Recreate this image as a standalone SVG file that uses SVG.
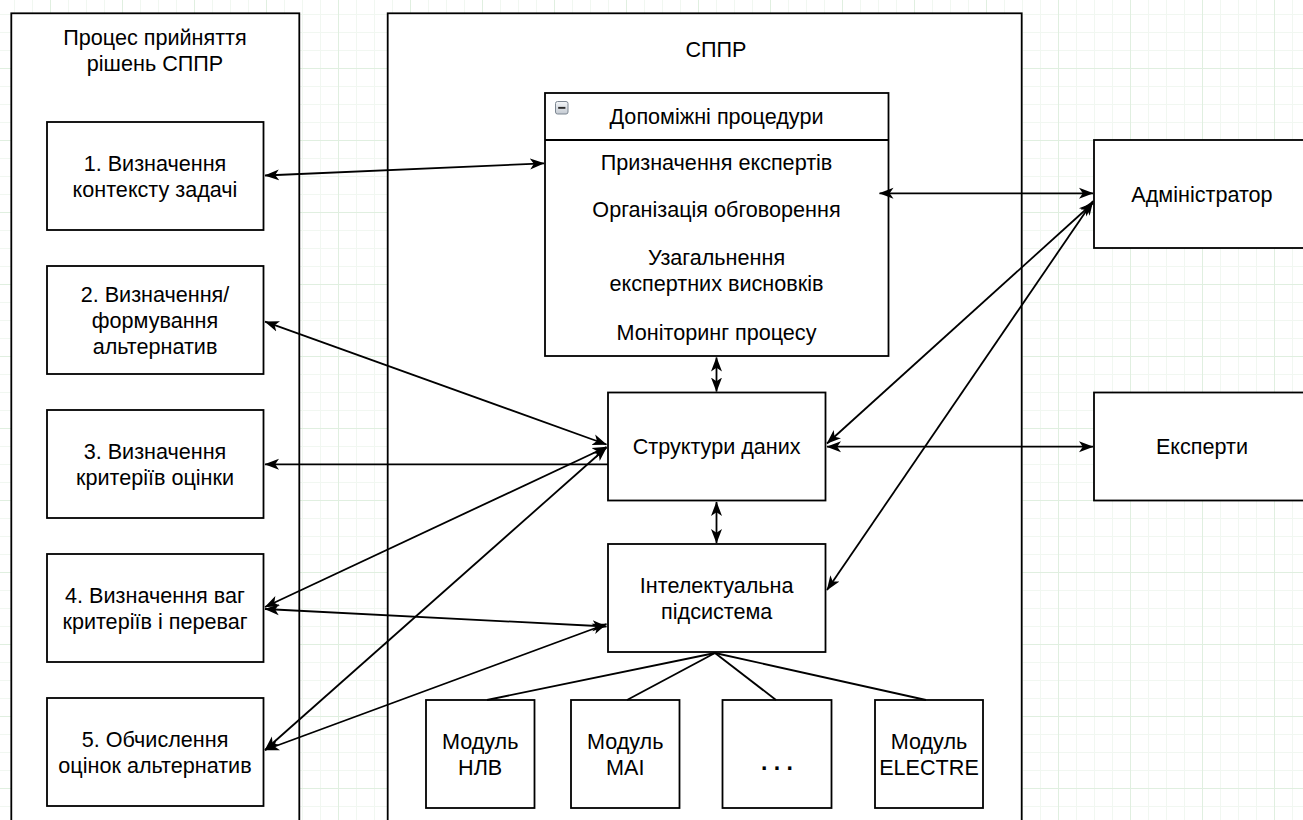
<svg xmlns="http://www.w3.org/2000/svg" width="1303" height="820" viewBox="0 0 1303 820">
<defs>
<pattern id="grid" patternUnits="userSpaceOnUse" x="50" y="68" width="72" height="72">
<rect x="18" y="0" width="1" height="72" fill="#f1f7f1"/>
<rect x="36" y="0" width="1" height="72" fill="#f1f7f1"/>
<rect x="54" y="0" width="1" height="72" fill="#f1f7f1"/>
<rect x="0" y="18" width="72" height="1" fill="#f1f7f1"/>
<rect x="0" y="36" width="72" height="1" fill="#f1f7f1"/>
<rect x="0" y="54" width="72" height="1" fill="#f1f7f1"/>
<rect x="0" y="0" width="1" height="72" fill="#e0efe0"/>
<rect x="0" y="0" width="72" height="1" fill="#e0efe0"/>
</pattern>
<marker id="arr" markerUnits="userSpaceOnUse" markerWidth="15" markerHeight="13" viewBox="0 0 15 13" refX="14" refY="6.5" orient="auto-start-reverse">
<path d="M0,1 L14.5,6.5 L0,12 L3.8,6.5 Z" fill="#000"/>
</marker>
<linearGradient id="ig" x1="0" y1="0" x2="0" y2="1">
<stop offset="0" stop-color="#f4f6f8"/>
<stop offset="1" stop-color="#c4cad2"/>
</linearGradient>
</defs>
<style>
.box{fill:#fff;stroke:#000;stroke-width:1.8}
.t{font-family:"Liberation Sans",Arial,Helvetica,sans-serif;font-size:21.6px;fill:#000;text-anchor:middle}
.c{fill:none;stroke:#000;stroke-width:1.8}
.a{marker-end:url(#arr)}
.aa{marker-start:url(#arr);marker-end:url(#arr)}
</style>
<rect x="0" y="0" width="1303" height="820" fill="#fff"/>
<rect x="0" y="0" width="1303" height="820" fill="url(#grid)"/>

<g id="process-container">
<rect class="box" x="11.3" y="13.3" width="288" height="830"/>
<text class="t" x="155" y="45">Процес прийняття</text>
<text class="t" x="155" y="71">рішень СППР</text>
</g>

<g id="sppr-container">
<rect class="box" x="387.7" y="13.3" width="634" height="830"/>
<text class="t" x="716" y="57">СППР</text>
</g>

<g id="step1">
<rect class="box" x="47" y="122" width="216.5" height="108"/>
<text class="t" x="155" y="170.7">1. Визначення</text>
<text class="t" x="155" y="196.7">контексту задачі</text>
</g>
<g id="step2">
<rect class="box" x="47" y="266" width="216.5" height="108"/>
<text class="t" x="155" y="301.6">2. Визначення/</text>
<text class="t" x="155" y="327.6">формування</text>
<text class="t" x="155" y="353.6">альтернатив</text>
</g>
<g id="step3">
<rect class="box" x="47" y="410" width="216.5" height="108"/>
<text class="t" x="155" y="458.7">3. Визначення</text>
<text class="t" x="155" y="484.7">критеріїв оцінки</text>
</g>
<g id="step4">
<rect class="box" x="47" y="554" width="216.5" height="108"/>
<text class="t" x="155" y="602.7">4. Визначення ваг</text>
<text class="t" x="155" y="628.7">критеріїв і переваг</text>
</g>
<g id="step5">
<rect class="box" x="47" y="698" width="216.5" height="108"/>
<text class="t" x="155" y="746.7">5. Обчислення</text>
<text class="t" x="155" y="772.7">оцінок альтернатив</text>
</g>

<g id="aux-procedures">
<rect class="box" x="545" y="93" width="343.5" height="263"/>
<line class="c" x1="545" y1="140" x2="888.5" y2="140"/>
<rect x="555.5" y="101.5" width="12.5" height="12.5" rx="2" fill="url(#ig)" stroke="#7d8792" stroke-width="1"/>
<rect x="558.2" y="106.9" width="7.2" height="1.9" fill="#2a2a2a"/>
<text class="t" x="716.5" y="124.3">Допоміжні процедури</text>
<text class="t" x="716.5" y="170">Призначення експертів</text>
<text class="t" x="716.5" y="217">Організація обговорення</text>
<text class="t" x="716.5" y="264.5">Узагальнення</text>
<text class="t" x="716.5" y="290.5">експертних висновків</text>
<text class="t" x="716.5" y="340">Моніторинг процесу</text>
</g>

<g id="data-structures">
<rect class="box" x="608" y="392.5" width="217.5" height="108"/>
<text class="t" x="716.7" y="454">Структури даних</text>
</g>

<g id="intel-subsystem">
<rect class="box" x="608" y="544" width="217.5" height="108"/>
<text class="t" x="716.7" y="593">Інтелектуальна</text>
<text class="t" x="716.7" y="619">підсистема</text>
</g>

<g id="module-nlv">
<rect class="box" x="426" y="700" width="108.5" height="108"/>
<text class="t" x="480.2" y="749">Модуль</text>
<text class="t" x="480.2" y="775">НЛВ</text>
</g>
<g id="module-mai">
<rect class="box" x="571" y="700" width="108.5" height="108"/>
<text class="t" x="625.2" y="749">Модуль</text>
<text class="t" x="625.2" y="775">MAI</text>
</g>
<g id="module-dots">
<rect class="box" x="722.5" y="700" width="109" height="108"/>
<text class="t" x="777" y="770" style="font-weight:bold;font-size:23px">. . .</text>
</g>
<g id="module-electre">
<rect class="box" x="875" y="700" width="108" height="108"/>
<text class="t" x="929" y="749">Модуль</text>
<text class="t" x="929" y="775">ELECTRE</text>
</g>

<g id="administrator">
<rect class="box" x="1094" y="140" width="216" height="108"/>
<text class="t" x="1202" y="201.5">Адміністратор</text>
</g>
<g id="experts">
<rect class="box" x="1094" y="392.5" width="216" height="108"/>
<text class="t" x="1202" y="454">Експерти</text>
</g>

<g id="connectors">
<line class="c aa" x1="265" y1="175.5" x2="544" y2="163.3"/>
<line class="c aa" x1="265" y1="321.7" x2="606.5" y2="444.5"/>
<line class="c a" x1="608" y1="464.3" x2="265" y2="464.3"/>
<line class="c aa" x1="265" y1="607" x2="606.5" y2="447"/>
<line class="c aa" x1="265" y1="609" x2="606.5" y2="626.5"/>
<line class="c aa" x1="265" y1="750" x2="606.5" y2="447.5"/>
<line class="c aa" x1="265" y1="750" x2="606.5" y2="624"/>
<line class="c aa" x1="716.5" y1="357.5" x2="716.5" y2="391.5"/>
<line class="c aa" x1="716.5" y1="502" x2="716.5" y2="543"/>
<line class="c aa" x1="879.5" y1="193.3" x2="1093" y2="193.3"/>
<line class="c aa" x1="827" y1="443.5" x2="1093" y2="203"/>
<line class="c aa" x1="827" y1="590" x2="1093" y2="201"/>
<line class="c aa" x1="827" y1="446.7" x2="1093" y2="446.7"/>
<line class="c" x1="715" y1="653" x2="487" y2="700"/>
<line class="c" x1="715" y1="653" x2="627" y2="700"/>
<line class="c" x1="715" y1="653" x2="776" y2="700"/>
<line class="c" x1="715" y1="653" x2="926" y2="700"/>
</g>
</svg>
